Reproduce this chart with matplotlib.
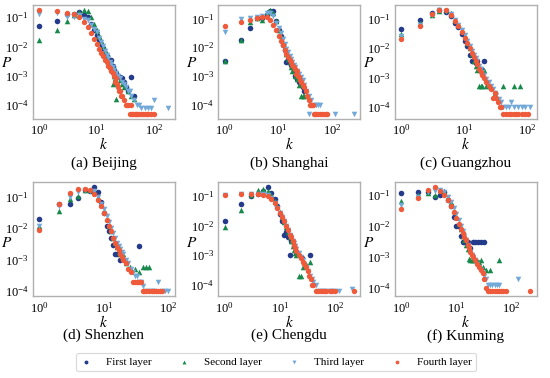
import numpy as np
import matplotlib
matplotlib.use("Agg")
import matplotlib.pyplot as plt

plt.rcParams['font.family'] = ['Liberation Serif', 'DejaVu Serif']
plt.rcParams['mathtext.fontset'] = 'stix'

# degree distributions, one list per city and layer
BJ_K1 = [1, 2, 3, 4, 5, 6, 7, 8, 9, 10, 11, 12, 13, 14, 15, 16, 17, 18, 19, 20, 22, 24, 26, 28, 30, 33, 36, 40, 45]
BJ_P1 = [.048, .075, .13, .13, .15, .12, .10, .06, .035, .025, .017, .012, .009, .006, .0045, .0035, .003, .0035, .0022,
         .0016, .0012, .001, .0009, .0008, .0006, .0004, .0003, .0009, .0002]
BJ_K2 = [1, 2, 3, 4, 5, 6, 7, 8, 9, 10, 11, 12, 13, 14, 15, 16, 17, 18, 19, 20, 21, 22, 24, 26, 28, 30, 35, 40, 45]
BJ_P2 = [.017, .035, .075, .12, .15, .18, .16, .10, .06, .035, .022, .015, .01, .007, .005, .0035, .0025, .0018, .0005,
         .001, .0008, .00016, .0005, .0007, .0005, .0004, .0003, .0002, .00016]
BJ_K3 = [1, 2, 3, 4, 5, 6, 7, 8, 9, 10, 11, 12, 13, 14, 15, 16, 17, 18, 19, 20, 22, 24, 26, 28, 30, 32, 35, 38, 40, 45,
         50, 55, 60, 70, 80, 90, 100, 180]
BJ_P3 = [.13, .14, .10, .10, .12, .09, .08, .055, .04, .03, .02, .014, .01, .007, .005, .004, .003, .0025, .002, .0016,
         .0012, .001, .0008, .0006, .0005, .0004, .0003, .0003, .0002, .00015, .0001, .0001, .00008, .00008, .00008,
         .00008, .00015, .000075]
BJ_K4 = [1, 2, 3, 4, 5, 6, 7, 8, 9, 10, 11, 12, 13, 14, 15, 16, 17, 18, 19, 20, 21, 22, 23, 24, 25, 26, 27, 28, 30, 32,
         34, 36, 38, 40, 42, 44, 46, 48, 50, 55, 60, 65, 70, 75, 80, 90, 100]
BJ_P4 = [.18, .16, .14, .13, .10, .07, .045, .028, .018, .012, .008, .006, .0045, .0035, .003, .0022, .0018, .0014,
         .0012, .001, .0006, .0008, .0005, .0004, .0003, .0003, .0002, .0002, .00015, .0001, .0001, .0001, .00005,
         .0001, .00005, .00005, .00005, .00005, .00005, .00005, .00005, .00005, .00005, .00005, .00005, .00005, .00005]

SH_K1 = [1, 2, 3, 4, 5, 6, 7, 8, 9, 10, 11, 12, 13, 14, 15, 16, 17, 18, 19, 20, 22, 24, 26, 28, 30]
SH_P1 = [.0033, .018, .045, .1, .1, .13, .18, .18, .08, .04, .025, .012, .008, .003, .004, .003, .0025, .002, .0015,
         .001, .0008, .0006, .0005, .0004, .0003]
SH_K2 = [1, 2, 3, 4, 5, 6, 7, 8, 9, 10, 11, 12, 13, 14, 15, 16, 17, 18, 20, 22, 24, 26, 28, 30]
SH_P2 = [.0033, .018, .075, .1, .09, .17, .2, .16, .08, .04, .025, .015, .01, .006, .004, .003, .002, .0015, .001,
         .0008, .0005, .0002, .0002, .0002]
SH_K3 = [1, 2, 3, 4, 5, 6, 7, 8, 9, 10, 11, 12, 13, 14, 15, 16, 17, 18, 19, 20, 22, 24, 26, 28, 30, 33, 36, 37, 40, 45,
         50, 55, 60, 110, 250]
SH_P3 = [.035, .095, .1, .11, .12, .15, .16, .12, .07, .045, .03, .02, .013, .009, .007, .005, .004, .003, .0025, .002,
         .0015, .0012, .0009, .0007, .0005, .0003, .0002, .00005, .00015, .0001, .0001, .0001, .0001, .00005, .00005]
SH_K4 = [1, 2, 3, 4, 5, 6, 7, 8, 9, 10, 11, 12, 13, 14, 15, 16, 17, 18, 19, 20, 21, 22, 23, 24, 25, 26, 28, 30, 32, 34,
         36, 38, 40, 42, 44, 46, 48, 50, 55, 60, 65, 70, 75, 80]
SH_P4 = [.055, .075, .09, .1, .11, .11, .09, .06, .04, .025, .017, .012, .008, .006, .0045, .0035, .003, .0025, .002,
         .0017, .0012, .0015, .001, .0009, .0007, .0006, .0005, .0004, .0003, .0002, .00015, .0001, .0001, .0001,
         .0001, .00005, .00005, .00005, .00005, .00005, .00005, .00005, .00005, .00005]

GZ_K1 = [1, 2, 3, 4, 5, 6, 7, 8, 9, 10, 11, 12, 13, 14, 15, 16, 18, 20]
GZ_P1 = [.045, .09, .15, .2, .17, .12, .07, .05, .03, .018, .012, .006, .0035, .0035, .003, .0035, .002, .0035]
GZ_K2 = [1, 2, 3, 4, 5, 6, 7, 8, 9, 10, 11, 12, 13, 14, 15, 16, 17, 18, 19, 20, 22, 24, 26, 30, 40, 60, 75]
GZ_P2 = [.03, .07, .13, .18, .2, .15, .09, .06, .04, .025, .015, .01, .0065, .0035, .0025, .0018, .0005, .0005, .0005,
         .0018, .0005, .0005, .0005, .0003, .0005, .0005, .0005]
GZ_K3 = [1, 2, 3, 4, 5, 6, 7, 8, 9, 10, 11, 12, 13, 14, 15, 16, 17, 18, 19, 20, 22, 24, 26, 28, 30, 32, 35, 38, 40, 45,
         50, 55, 60, 70, 80, 90, 110]
GZ_P3 = [.025, .06, .13, .2, .18, .14, .09, .06, .04, .028, .018, .012, .008, .006, .0045, .0035, .0025, .002, .0015,
         .0012, .0009, .0007, .0005, .0004, .0003, .00025, .00018, .00015, .0001, .0001, .0001, .00015, .0001, .0001,
         .0001, .0001, .0001]
GZ_K4 = [1, 2, 3, 4, 5, 6, 7, 8, 9, 10, 11, 12, 13, 14, 15, 16, 17, 18, 19, 20, 22, 24, 26, 28, 30, 32, 34, 36, 38, 40,
         45, 50, 55, 60, 65, 70, 80, 90, 100]
GZ_P4 = [.02, .055, .14, .2, .19, .13, .08, .055, .035, .022, .015, .01, .007, .005, .0035, .0028, .002, .0015, .0012,
         .001, .0007, .0005, .0004, .0002, .0003, .0002, .00015, .0001, .0001, .00006, .00006, .00006, .00006, .00006,
         .00006, .00006, .00006, .00006, .00006]

SZ_K1 = [1, 2, 3, 4, 5, 6, 7, 8, 9, 10, 11, 12, 13, 14, 15, 16, 18, 35]
SZ_P1 = [.02, .06, .06, .09, .16, .15, .2, .14, .07, .03, .012, .008, .005, .003, .0015, .0015, .001, .0028]
SZ_K2 = [1, 2, 3, 4, 5, 6, 7, 8, 9, 10, 11, 12, 13, 14, 15, 16, 17, 18, 19, 20, 22, 25, 30, 35, 40, 45, 50]
SZ_P2 = [.012, .035, .085, .11, .16, .17, .15, .1, .06, .035, .02, .012, .008, .005, .0035, .0025, .0018, .0015, .0013,
         .0015, .0008, .0006, .0005, .0004, .0006, .0006, .0006]
SZ_K3 = [1, 2, 3, 4, 5, 6, 7, 8, 9, 10, 11, 12, 13, 14, 15, 16, 17, 18, 19, 20, 22, 24, 26, 28, 30, 32, 35, 38, 40, 45,
         50, 55, 60, 70, 80, 90, 100]
SZ_P3 = [.012, .05, .1, .14, .16, .15, .15, .1, .06, .04, .025, .016, .01, .007, .005, .0035, .0028, .0022, .0018,
         .0015, .001, .0008, .0005, .0004, .0003, .0003, .0002, .0002, .00015, .0001, .0001, .0001, .0001, .0002,
         .0001, .0001, .0001]
SZ_K4 = [1, 2, 3, 4, 5, 6, 7, 8, 9, 10, 11, 12, 13, 14, 15, 16, 17, 18, 19, 20, 22, 24, 26, 28, 30, 32, 34, 36, 38, 40,
         42, 45, 50, 55, 60, 65, 70, 75, 80]
SZ_P4 = [.009, .06, .13, .18, .18, .16, .12, .08, .05, .03, .018, .012, .008, .005, .0035, .0025, .002, .0015, .0012,
         .001, .0008, .0005, .0004, .0002, .0002, .0002, .0002, .0002, .0002, .0001, .0001, .0001, .0001, .0001,
         .0001, .0001, .0001, .0001, .0001]

CD_K1 = [1, 2, 3, 4, 5, 6, 7, 8, 9, 10, 11, 12, 13, 14, 15, 16, 18, 20, 25, 35]
CD_P1 = [.015, .055, .1, .12, .15, .2, .13, .08, .045, .025, .015, .005, .006, .004, .001, .003, .002, .0013, .0008,
         .001]
CD_K2 = [1, 2, 3, 4, 5, 6, 7, 8, 9, 10, 11, 12, 13, 14, 15, 16, 17, 18, 19, 20, 22, 24, 26, 30, 35]
CD_P2 = [.009, .035, .11, .16, .18, .15, .11, .07, .045, .03, .02, .013, .009, .006, .004, .003, .002, .0015, .0012,
         .001, .0002, .0002, .0004, .0005, .0006]
CD_K3 = [1, 2, 3, 4, 5, 6, 7, 8, 9, 10, 11, 12, 13, 14, 15, 16, 17, 18, 19, 20, 22, 24, 26, 28, 30, 32, 35, 38, 40, 45,
         50, 55, 60, 70, 80, 90, 100, 120, 200]
CD_P3 = [.11, .12, .12, .12, .12, .11, .09, .06, .04, .028, .02, .014, .01, .007, .005, .004, .003, .0025, .002, .0016,
         .0012, .0009, .0007, .0005, .0004, .0003, .0002, .00015, .00012, .0001, .00006, .00006, .00006, .00006,
         .00006, .00006, .00006, .00006, .00007]
CD_K4 = [1, 2, 3, 4, 5, 6, 7, 8, 9, 10, 11, 12, 13, 14, 15, 16, 17, 18, 19, 20, 22, 24, 26, 28, 30, 32, 34, 36, 38, 40,
         45, 50, 55, 60, 65, 70, 80, 90, 100, 220]
CD_P4 = [.11, .12, .12, .12, .11, .1, .08, .06, .04, .028, .02, .014, .01, .007, .005, .004, .003, .0022, .0018, .0014,
         .001, .0008, .0006, .0005, .0004, .0003, .0002, .00015, .0001, .0001, .00006, .00006, .00006, .00006,
         .00006, .00006, .00006, .00006, .00006, .00006]

KM_K1 = [1, 2, 3, 4, 5, 6, 7, 8, 9, 10, 11, 12, 13, 14, 15, 16, 18, 20, 22, 25, 28, 32]
KM_P1 = [.12, .13, .13, .085, .1, .13, .07, .045, .02, .01, .01, .005, .003, .003, .003, .003, .002, .003, .003, .003,
         .003, .003]
KM_K2 = [1, 2, 3, 4, 5, 6, 7, 8, 9, 10, 11, 12, 13, 14, 15, 16, 17, 18, 19, 20, 22, 24, 26, 28, 30, 35, 40, 60]
KM_P2 = [.065, .1, .12, .1, .15, .14, .09, .06, .03, .02, .012, .008, .005, .0035, .0025, .0018, .0009, .0008, .0008,
         .0008, .0008, .0008, .0007, .0008, .0005, .0004, .0004, .0008]
KM_K3 = [1, 2, 3, 4, 5, 6, 7, 8, 9, 10, 11, 12, 13, 14, 15, 16, 17, 18, 19, 20, 22, 24, 26, 28, 30, 32, 35, 38, 40, 45,
         50, 55, 60, 130]
KM_P3 = [.05, .09, .13, .14, .15, .13, .09, .06, .04, .025, .016, .01, .007, .005, .0035, .0025, .0018, .0015, .0012,
         .001, .0008, .0006, .0005, .0004, .0003, .00025, .0002, .00013, .00013, .00013, .00013, .00013, .00013, .0002]
KM_K4 = [1, 2, 3, 4, 5, 6, 7, 8, 9, 10, 11, 12, 13, 14, 15, 16, 17, 18, 19, 20, 22, 24, 26, 28, 30, 32, 35, 38, 40, 45,
         50, 55, 60, 65, 70, 80, 220]
KM_P4 = [.037, .08, .15, .18, .14, .1, .07, .045, .028, .018, .012, .008, .006, .0045, .0035, .0025, .002, .0015,
         .0012, .001, .0008, .0006, .0005, .0004, .0003, .0002, .0001, .00008, .00008, .00008, .00008, .00008, .00008,
         .00008, .00008, .00008, .00008]

TITLES = ["(a) Beijing", "(b) Shanghai", "(c) Guangzhou", "(d) Shenzhen", "(e) Chengdu", "(f) Kunming"]
LAYERS = ["First layer", "Second layer", "Third layer", "Fourth layer"]

panels = [
    [(BJ_K1, BJ_P1), (BJ_K2, BJ_P2), (BJ_K3, BJ_P3), (BJ_K4, BJ_P4)],
    [(SH_K1, SH_P1), (SH_K2, SH_P2), (SH_K3, SH_P3), (SH_K4, SH_P4)],
    [(GZ_K1, GZ_P1), (GZ_K2, GZ_P2), (GZ_K3, GZ_P3), (GZ_K4, GZ_P4)],
    [(SZ_K1, SZ_P1), (SZ_K2, SZ_P2), (SZ_K3, SZ_P3), (SZ_K4, SZ_P4)],
    [(CD_K1, CD_P1), (CD_K2, CD_P2), (CD_K3, CD_P3), (CD_K4, CD_P4)],
    [(KM_K1, KM_P1), (KM_K2, KM_P2), (KM_K3, KM_P3), (KM_K4, KM_P4)],
]

colors = ["#243a8a", "#17894a", "#72a9d8", "#ee5a3a"]
markers = ["o", "^", "v", "o"]
sizes = [16, 16, 16, 15]

fig = plt.figure(figsize=(5.5, 3.78), dpi=100)

lefts = [0.06, 0.397, 0.718]
bottoms = [0.686, 0.216]
w, h = 0.258, 0.302
title_y = [0.569, 0.112]
plabel_y = [0.485, 0.47]

for i, data in enumerate(panels):
    r, c = divmod(i, 3)
    ax = fig.add_axes([lefts[c], bottoms[r], w, h])
    for j, (k, p) in enumerate(data):
        ax.scatter(k, p, s=sizes[j], marker=markers[j], color=colors[j],
                   linewidths=0, label=LAYERS[j], zorder=2 + j)
    ax.set_xscale("log")
    ax.set_yscale("log")
    ax.set_yticks([1e-1, 1e-2, 1e-3, 1e-4])
    ax.minorticks_off()
    ax.tick_params(length=0, labelsize=9, pad=3)
    for s in ax.spines.values():
        s.set_color("#b0b0b0")
        s.set_linewidth(1.0)
    ax.set_xlabel("$k$", fontsize=11, labelpad=-1)
    ax.set_ylabel("$P$", fontsize=11, rotation=0, va="center", ha="center")
    ax.yaxis.set_label_coords(-0.185, plabel_y[r])
    fig.text(lefts[c] + w / 2, title_y[r], TITLES[i],
             ha="center", va="center", fontsize=11)

handles, labels = ax.get_legend_handles_labels()
leg = fig.legend(handles, labels, loc="center", bbox_to_anchor=(0.502, 0.042),
                 ncol=4, fontsize=8, frameon=True, markerscale=0.7,
                 handlelength=1.0, handletextpad=1.3, columnspacing=2.4,
                 borderpad=0.4)
leg.get_frame().set_edgecolor("#d0d0d0")
leg.get_frame().set_linewidth(0.8)

plt.savefig("out.png", dpi=100)
